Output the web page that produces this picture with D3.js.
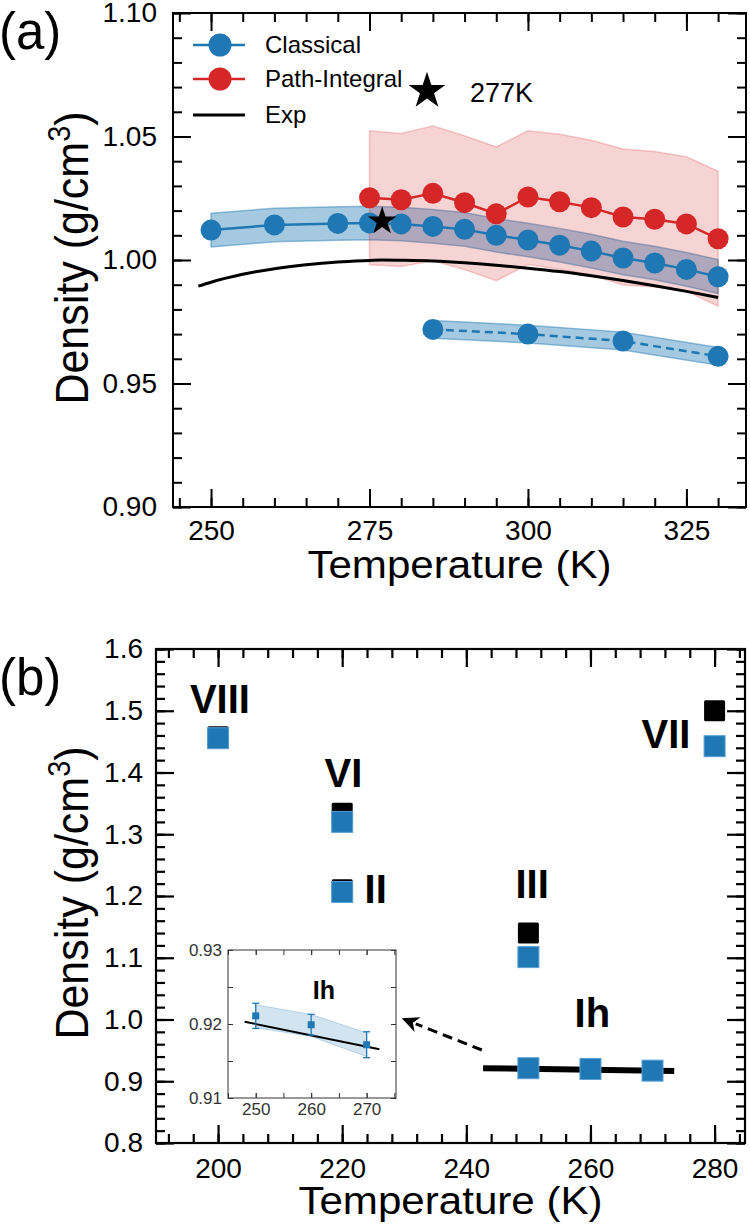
<!DOCTYPE html>
<html>
<head>
<meta charset="utf-8">
<script src="https://cdn.jsdelivr.net/npm/d3@7"></script>
<style>
  body { margin: 0; background: #fff; }
  svg { font-family: "Liberation Sans", Arial, Helvetica, sans-serif; }
</style>
</head>
<body>
<div id="chart"></div>
<script>
// ---------- panel (a): liquid water density ----------
const classicalT     = [250, 260, 270, 275, 280, 285, 290, 295, 300, 305, 310, 315, 320, 325, 330];
const classicalRho   = [1.0121, 1.0142, 1.0148, 1.0150, 1.0146, 1.0136, 1.0124, 1.0100, 1.0081, 1.0060, 1.0036, 1.0008, 0.9988, 0.9962, 0.9932];
const classicalUpper = [1.0189, 1.0210, 1.0216, 1.0218, 1.0214, 1.0204, 1.0192, 1.0168, 1.0149, 1.0128, 1.0104, 1.0076, 1.0056, 1.0030, 1.0002];
const classicalLower = [1.0053, 1.0074, 1.0080, 1.0082, 1.0078, 1.0068, 1.0056, 1.0032, 1.0013, 0.9992, 0.9968, 0.9940, 0.9920, 0.9894, 0.9864];

const pathT     = [275, 280, 285, 290, 295, 300, 305, 310, 315, 320, 325, 330];
const pathRho   = [1.0252, 1.0244, 1.0270, 1.0232, 1.0187, 1.0255, 1.0236, 1.0212, 1.0174, 1.0165, 1.0146, 1.0086];
const pathUpper = [1.0523, 1.0512, 1.0543, 1.0503, 1.0458, 1.0523, 1.0509, 1.0485, 1.0449, 1.0439, 1.0418, 1.0359];
const pathLower = [0.9981, 0.9974, 0.9997, 0.9961, 0.9916, 0.9982, 0.9963, 0.9939, 0.9899, 0.9891, 0.9874, 0.9813];

const dashT     = [285, 300, 315, 330];
const dashRho   = [0.9719, 0.9700, 0.9672, 0.9610];
const dashUpper = [0.9755, 0.9736, 0.9708, 0.9646];
const dashLower = [0.9683, 0.9664, 0.9636, 0.9574];

const expT   = [248, 250, 255, 260, 265, 270, 275, 277, 280, 285, 290, 295, 300, 305, 310, 315, 320, 325, 330];
const expRho = [0.9894, 0.9910, 0.9942, 0.9965, 0.9981, 0.9992, 0.9998, 1.0000, 0.9999, 0.9996, 0.9989, 0.9979, 0.9967, 0.9953, 0.9936, 0.9917, 0.9896, 0.9873, 0.9848];

const maxPoint = [277, 1.0157];   // star at 277K

const aXTicks = [250, 275, 300, 325];
const aYTicks = [0.90, 0.95, 1.00, 1.05, 1.10];

// ---------- panel (b): ice phases ----------
const phaseNames = ["VIII", "VI", "II", "III", "VII"];
const phaseT     = [200, 220, 220, 250, 280];
const phaseExp   = [1.458, 1.334, 1.210, 1.140, 1.500];
const phaseSim   = [1.4555, 1.320, 1.2065, 1.101, 1.4426];

const ihT     = [250, 260, 270];
const ihRho   = [0.9211, 0.9199, 0.9172];
const ihErr   = [0.0017, 0.0014, 0.00175];
const ihUpper = [0.9226, 0.9213, 0.9188];
const ihLower = [0.9195, 0.9183, 0.9156];
const ihExpT      = [242.7, 273.5];
const ihExpRho    = [0.9212, 0.9165];
const ihInsetExpT   = [248, 272.3];
const ihInsetExpRho = [0.9203, 0.9166];

const bXTicks = [200, 220, 240, 260, 280];
const bYTicks = [0.8, 0.9, 1.0, 1.1, 1.2, 1.3, 1.4, 1.5, 1.6];
const insetXTicks = [250, 260, 270];
const insetYTicks = [0.91, 0.92, 0.93];

const BLUE = "#1f77b4";
const RED = "#d62728";

const svg = d3.select("#chart").append("svg")
    .attr("width", 750)
    .attr("height", 1228);

// draws a boxed frame with inward ticks on all four sides
function frame(g, x, y, o) {
    const [x0, x1] = x.range();
    const [y0, y1] = y.range();
    const sides = [
        [d3.axisBottom, x, `translate(0,${y0})`, o.xMinor, o.xMajor, o.xFmt, o.xPad],
        [d3.axisTop, x, `translate(0,${y1})`, o.xMinor, o.xMajor, null, 0],
        [d3.axisLeft, y, `translate(${x0},0)`, o.yMinor, o.yMajor, o.yFmt, o.yPad],
        [d3.axisRight, y, `translate(${x1},0)`, o.yMinor, o.yMajor, null, 0],
    ];
    sides.forEach(([ax, sc, tr, minor, major, fmt, pad]) => {
        g.append("g").attr("transform", tr)
            .call(ax(sc).tickValues(minor).tickSize(-o.minorLen).tickFormat(""));
        g.append("g").attr("transform", tr)
            .call(ax(sc).tickValues(major).tickSize(-o.majorLen)
                .tickPadding(pad).tickFormat(fmt ? fmt : ""));
    });
    g.selectAll(".domain").remove();
    g.selectAll(".tick line").attr("stroke", o.color).attr("stroke-width", o.width);
    g.selectAll(".tick text")
        .attr("fill", o.color)
        .style("font-size", o.fontSize + "px")
        .style("font-family", '"Liberation Sans", Arial, sans-serif');
    g.append("rect")
        .attr("x", x0).attr("y", y1)
        .attr("width", x1 - x0).attr("height", y0 - y1)
        .attr("fill", "none")
        .attr("stroke", o.color)
        .attr("stroke-width", o.width);
}

// the source figure is a little wider than tall, so titles get a slight stretch
function xTitle(cx, by) {
    svg.append("text")
        .attr("transform", `translate(${cx},${by}) scale(1.08,1)`)
        .attr("text-anchor", "middle")
        .style("font-size", "39px")
        .text("Temperature (K)");
}

function yTitle(cx, cy) {
    const t = svg.append("text")
        .attr("transform", `translate(${cx},${cy}) rotate(-90) scale(1,1.07)`)
        .attr("text-anchor", "middle")
        .style("font-size", "43px");
    t.append("tspan").text("Density (g/cm");
    t.append("tspan").attr("dy", -17).style("font-size", "29px").text("3");
    t.append("tspan").attr("dy", 17).text(")");
}

// ================= panel (a) =================
const xA = d3.scaleLinear().domain([244, 334.4]).range([173, 746]);
const yA = d3.scaleLinear().domain([0.90, 1.10]).range([507, 13]);

const bandA = (ts, lo, hi) => d3.area()
    .x((d, i) => xA(ts[i]))
    .y0((d, i) => yA(lo[i]))
    .y1((d, i) => yA(hi[i]))(ts);

const gA = svg.append("g");

// blue bands
gA.append("path").attr("d", bandA(classicalT, classicalLower, classicalUpper))
    .attr("fill", BLUE).attr("fill-opacity", 0.4)
    .attr("stroke", BLUE).attr("stroke-opacity", 0.45).attr("stroke-width", 1.5);
gA.append("path").attr("d", bandA(dashT, dashLower, dashUpper))
    .attr("fill", BLUE).attr("fill-opacity", 0.4)
    .attr("stroke", BLUE).attr("stroke-opacity", 0.45).attr("stroke-width", 1.5);
// red band on top
gA.append("path").attr("d", bandA(pathT, pathLower, pathUpper))
    .attr("fill", RED).attr("fill-opacity", 0.2)
    .attr("stroke", RED).attr("stroke-opacity", 0.22).attr("stroke-width", 1.5);

// experiment
gA.append("path")
    .attr("d", d3.line().curve(d3.curveMonotoneX)
        .x((d, i) => xA(expT[i])).y((d, i) => yA(expRho[i]))(expT))
    .attr("fill", "none").attr("stroke", "#000").attr("stroke-width", 3);

const lineA = (ts, vs) => d3.line().x((d, i) => xA(ts[i])).y((d, i) => yA(vs[i]))(ts);

// classical series
gA.append("path").attr("d", lineA(classicalT, classicalRho))
    .attr("fill", "none").attr("stroke", BLUE).attr("stroke-width", 2.5);
gA.append("path").attr("d", lineA(dashT, dashRho))
    .attr("fill", "none").attr("stroke", BLUE).attr("stroke-width", 2.5)
    .attr("stroke-dasharray", "8,5");
gA.append("g").attr("fill", BLUE)
    .selectAll("circle")
    .data(classicalT.map((t, i) => [t, classicalRho[i]]).concat(dashT.map((t, i) => [t, dashRho[i]])))
    .join("circle")
    .attr("cx", d => xA(d[0])).attr("cy", d => yA(d[1])).attr("r", 10.5);

// path-integral series
gA.append("path").attr("d", lineA(pathT, pathRho))
    .attr("fill", "none").attr("stroke", RED).attr("stroke-width", 2.5);
gA.append("g").attr("fill", RED)
    .selectAll("circle")
    .data(pathT.map((t, i) => [t, pathRho[i]]))
    .join("circle")
    .attr("cx", d => xA(d[0])).attr("cy", d => yA(d[1])).attr("r", 10.5);

// density maximum star
gA.append("path")
    .attr("d", d3.symbol(d3.symbolStar, 250)())
    .attr("transform", `translate(${xA(maxPoint[0])},${yA(maxPoint[1])})`)
    .attr("fill", "#000");

frame(gA.append("g"), xA, yA, {
    xMinor: d3.range(245, 334, 5), xMajor: aXTicks, xFmt: d3.format("d"), xPad: 13,
    yMinor: d3.range(0.90, 1.1001, 0.01), yMajor: aYTicks, yFmt: d3.format(".2f"), yPad: 16,
    minorLen: 9, majorLen: 18, fontSize: 28, color: "#000", width: 2
});

// legend
const legend = svg.append("g");
[[45, BLUE, "Classical", true], [79, RED, "Path-Integral", true], [115, "#000", "Exp", false]]
    .forEach(([ly, c, label, marker]) => {
        legend.append("line").attr("x1", 193).attr("x2", 245).attr("y1", ly).attr("y2", ly)
            .attr("stroke", c).attr("stroke-width", marker ? 2.5 : 3);
        if (marker) legend.append("circle").attr("cx", 220).attr("cy", ly).attr("r", 11.5).attr("fill", c);
        legend.append("text").attr("x", 265).attr("y", ly).attr("dy", "0.35em")
            .style("font-size", "24px").text(label);
    });
legend.append("path")
    .attr("d", d3.symbol(d3.symbolStar, 420)())
    .attr("transform", "translate(427,91)")
    .attr("fill", "#000");
legend.append("text").attr("x", 470).attr("y", 102)
    .style("font-size", "27px").text("277K");

xTitle((173 + 746) / 2, 578);
yTitle(88, 258);
svg.append("text").attr("x", -1).attr("y", 49).style("font-size", "51px").text("(a)");

// ================= panel (b) =================
const xB = d3.scaleLinear().domain([190, 284.9]).range([156, 745]);
const yB = d3.scaleLinear().domain([0.8, 1.6]).range([1143, 649]);
const gB = svg.append("g");
const SQ = 21;

// Ih experimental line
gB.append("line")
    .attr("x1", xB(ihExpT[0])).attr("x2", xB(ihExpT[1]))
    .attr("y1", yB(ihExpRho[0])).attr("y2", yB(ihExpRho[1]))
    .attr("stroke", "#000").attr("stroke-width", 6);

// experimental squares then simulation squares
gB.append("g").selectAll("rect")
    .data(phaseT.map((t, i) => [t, phaseExp[i]]))
    .join("rect")
    .attr("x", d => xB(d[0]) - SQ / 2).attr("y", d => yB(d[1]) - SQ / 2)
    .attr("width", SQ).attr("height", SQ).attr("rx", 1.5)
    .attr("fill", "#000");
gB.append("g").selectAll("rect")
    .data(phaseT.map((t, i) => [t, phaseSim[i]]).concat(ihT.map((t, i) => [t, ihRho[i]])))
    .join("rect")
    .attr("x", d => xB(d[0]) - SQ / 2).attr("y", d => yB(d[1]) - SQ / 2)
    .attr("width", SQ).attr("height", SQ)
    .attr("fill", BLUE).attr("stroke", "#5aa0d6").attr("stroke-width", 1);

// phase labels
const phaseLabels = [
    ["VIII", 200.3, 1.496, "middle"],
    ["VI", 220.2, 1.3765, "middle"],
    ["II", 223.6, 1.1887, "start"],
    ["III", 250.6, 1.197, "middle"],
    ["VII", 276.1, 1.4397, "end"],
    ["Ih", 260.3, 0.988, "middle"],
];
gB.append("g").selectAll("text")
    .data(phaseLabels)
    .join("text")
    .attr("x", d => xB(d[1])).attr("y", d => yB(d[2]))
    .attr("text-anchor", d => d[3])
    .style("font-size", "40px").style("font-weight", "bold")
    .text(d => d[0]);

// dashed arrow towards the inset
const arrowFrom = [242.5, 0.9506], arrowTo = [229.6, 1.0019];
{
    const sx = xB(arrowFrom[0]), sy = yB(arrowFrom[1]);
    const tx = xB(arrowTo[0]), ty = yB(arrowTo[1]);
    const len = Math.hypot(tx - sx, ty - sy);
    const ux = (tx - sx) / len, uy = (ty - sy) / len;
    const L = 17, W = 8;
    const bx = tx - ux * L, by = ty - uy * L;
    gB.append("line").attr("x1", sx).attr("y1", sy).attr("x2", bx + ux * 2).attr("y2", by + uy * 2)
        .attr("stroke", "#000").attr("stroke-width", 3).attr("stroke-dasharray", "10,6");
    gB.append("path")
        .attr("d", `M${tx},${ty}L${bx - uy * W},${by + ux * W}L${bx + ux * 5},${by + uy * 5}L${bx + uy * W},${by - ux * W}Z`)
        .attr("fill", "#000");
}

frame(gB.append("g"), xB, yB, {
    xMinor: d3.range(192, 285, 4), xMajor: bXTicks, xFmt: d3.format("d"), xPad: 15,
    yMinor: d3.range(0.80, 1.6001, 0.02), yMajor: bYTicks, yFmt: d3.format(".1f"), yPad: 13,
    minorLen: 9, majorLen: 18, fontSize: 28, color: "#000", width: 2.2
});

xTitle((156 + 745) / 2, 1214);
yTitle(88, 893);
svg.append("text").attr("x", -1).attr("y", 695).style("font-size", "51px").text("(b)");

// ---------- inset ----------
const xI = d3.scaleLinear().domain([245, 275.3]).range([228, 396]);
const yI = d3.scaleLinear().domain([0.91, 0.93]).range([1098, 950]);
const gI = svg.append("g");
gI.append("rect").attr("x", 228).attr("y", 950).attr("width", 168).attr("height", 148).attr("fill", "#fff");

gI.append("path")
    .attr("d", d3.area().x((d, i) => xI(ihT[i])).y0((d, i) => yI(ihLower[i])).y1((d, i) => yI(ihUpper[i]))(ihT))
    .attr("fill", BLUE).attr("fill-opacity", 0.2)
    .attr("stroke", BLUE).attr("stroke-opacity", 0.25).attr("stroke-width", 1);
gI.append("line")
    .attr("x1", xI(ihInsetExpT[0])).attr("x2", xI(ihInsetExpT[1]))
    .attr("y1", yI(ihInsetExpRho[0])).attr("y2", yI(ihInsetExpRho[1]))
    .attr("stroke", "#000").attr("stroke-width", 2);

const err = gI.append("g").attr("stroke", BLUE).attr("stroke-width", 1.3);
ihT.forEach((t, i) => {
    const cx = xI(t);
    const top = yI(ihRho[i] + ihErr[i]), bot = yI(ihRho[i] - ihErr[i]);
    err.append("line").attr("x1", cx).attr("x2", cx).attr("y1", top).attr("y2", bot);
    err.append("line").attr("x1", cx - 3.5).attr("x2", cx + 3.5).attr("y1", top).attr("y2", top);
    err.append("line").attr("x1", cx - 3.5).attr("x2", cx + 3.5).attr("y1", bot).attr("y2", bot);
});
gI.append("g").selectAll("rect")
    .data(ihT.map((t, i) => [t, ihRho[i]]))
    .join("rect")
    .attr("x", d => xI(d[0]) - 3.5).attr("y", d => yI(d[1]) - 3.5)
    .attr("width", 7).attr("height", 7).attr("fill", BLUE);

gI.append("text").attr("x", xI(262.3)).attr("y", yI(0.9234))
    .attr("text-anchor", "middle").style("font-size", "25px").style("font-weight", "bold").text("Ih");

frame(gI.append("g"), xI, yI, {
    xMinor: [245, 250, 255, 260, 265, 270, 275], xMajor: insetXTicks, xFmt: d3.format("d"), xPad: 5,
    yMinor: [0.915, 0.925], yMajor: insetYTicks, yFmt: d3.format(".2f"), yPad: 6,
    minorLen: 5, majorLen: 5, fontSize: 17, color: "#333", width: 1
});
</script>
</body>
</html>
